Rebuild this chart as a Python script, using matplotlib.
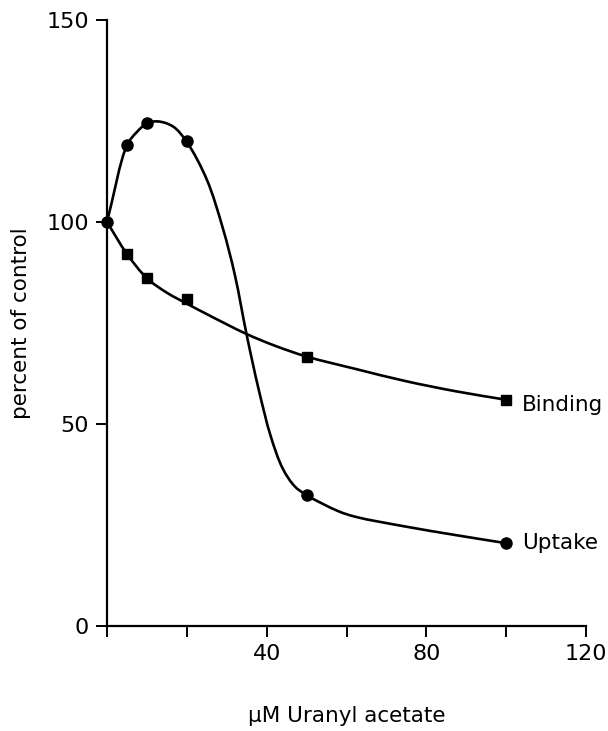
import numpy as np
import matplotlib
matplotlib.use('Agg')
import matplotlib.pyplot as plt
from matplotlib.path import Path
from matplotlib.patches import PathPatch

plt.rcParams['font.family'] = 'DejaVu Sans'
plt.rcParams['font.size'] = 16

# Measured points (uM uranyl acetate, percent of control)
conc = [0, 5, 10, 20, 50, 100]
uptake = [100, 119, 124.5, 120, 32.4, 20.5]
binding = [100, 92.1, 86.1, 80.9, 66.7, 56.0]

# Hand-drawn guide curves through the points
uptake_line_x = [0, 5, 7.4, 10, 12.8, 16.6, 20, 25, 29, 32, 35, 38, 41, 44,
                 47, 50, 58, 62.4, 74.9, 87.4, 100]
uptake_line_y = [100, 119, 122.2, 124.4, 124.9, 123.6, 119.8, 110.5, 98.5,
                 87, 72, 58.5, 47, 39, 34.6, 32.4, 28.4, 27.0, 24.6, 22.5, 20.5]
binding_line_x = [0, 5, 10, 15, 20, 25, 34.7, 42, 50, 62.4, 74.9, 87.4, 100]
binding_line_y = [100, 92.1, 86.1, 82.5, 79.8, 77.2, 72.4, 69.4, 66.7,
                  63.6, 60.6, 58.1, 56.0]


def smooth_path(xs, ys, alpha=0.5):
    # centripetal Catmull-Rom, written out as cubic Bezier pieces
    pts = np.column_stack([xs, ys]).astype(float)
    p = np.vstack([2 * pts[0] - pts[1], pts, 2 * pts[-1] - pts[-2]])
    verts = [pts[0]]
    codes = [Path.MOVETO]
    for i in range(1, len(p) - 2):
        p0, p1, p2, p3 = p[i - 1], p[i], p[i + 1], p[i + 2]
        d1 = np.linalg.norm(p1 - p0) ** alpha
        d2 = np.linalg.norm(p2 - p1) ** alpha
        d3 = np.linalg.norm(p3 - p2) ** alpha
        b1 = (d1**2 * p2 - d2**2 * p0 + (2 * d1**2 + 3 * d1 * d2 + d2**2) * p1) / (3 * d1 * (d1 + d2))
        b2 = (d3**2 * p1 - d2**2 * p3 + (2 * d3**2 + 3 * d3 * d2 + d2**2) * p2) / (3 * d3 * (d3 + d2))
        verts += [b1, b2, p2]
        codes += [Path.CURVE4] * 3
    return Path(verts, codes)


fig = plt.figure(figsize=(6.08, 7.31), dpi=100)
ax = fig.add_axes([0.176, 0.1436, 0.788, 0.829])

for lx, ly in [(uptake_line_x, uptake_line_y), (binding_line_x, binding_line_y)]:
    ax.add_patch(PathPatch(smooth_path(lx, ly), fill=False, lw=1.9,
                           edgecolor='black', capstyle='round'))

ax.plot(conc[1:], binding[1:], 's', color='black', ms=6.5, clip_on=False, zorder=3)
ax.plot(conc, uptake, 'o', color='black', ms=8, clip_on=False, zorder=4)

ax.text(conc[-1] + 4, binding[-1] - 1.3, 'Binding', va='center', ha='left',
        fontsize=15.5, clip_on=False)
ax.text(conc[-1] + 4, uptake[-1], 'Uptake', va='center', ha='left',
        fontsize=15.5, clip_on=False)

ax.set_xlim(0, 120)
ax.set_ylim(0, 150)
ax.spines['top'].set_visible(False)
ax.spines['right'].set_visible(False)
for s in ['left', 'bottom']:
    ax.spines[s].set_linewidth(1.6)

ax.set_xticks([0, 20, 40, 60, 80, 100, 120])
ax.set_xticklabels(['', '', '40', '', '80', '', '120'])
ax.set_yticks([0, 50, 100, 150])
ax.tick_params(direction='out', length=8, width=1.4, pad=5, labelsize=16)

ax.set_xlabel('µM Uranyl acetate', fontsize=15.5, labelpad=30)
ax.set_ylabel('percent of control', fontsize=15.5, labelpad=11)

fig.savefig('out.png', dpi=100)
